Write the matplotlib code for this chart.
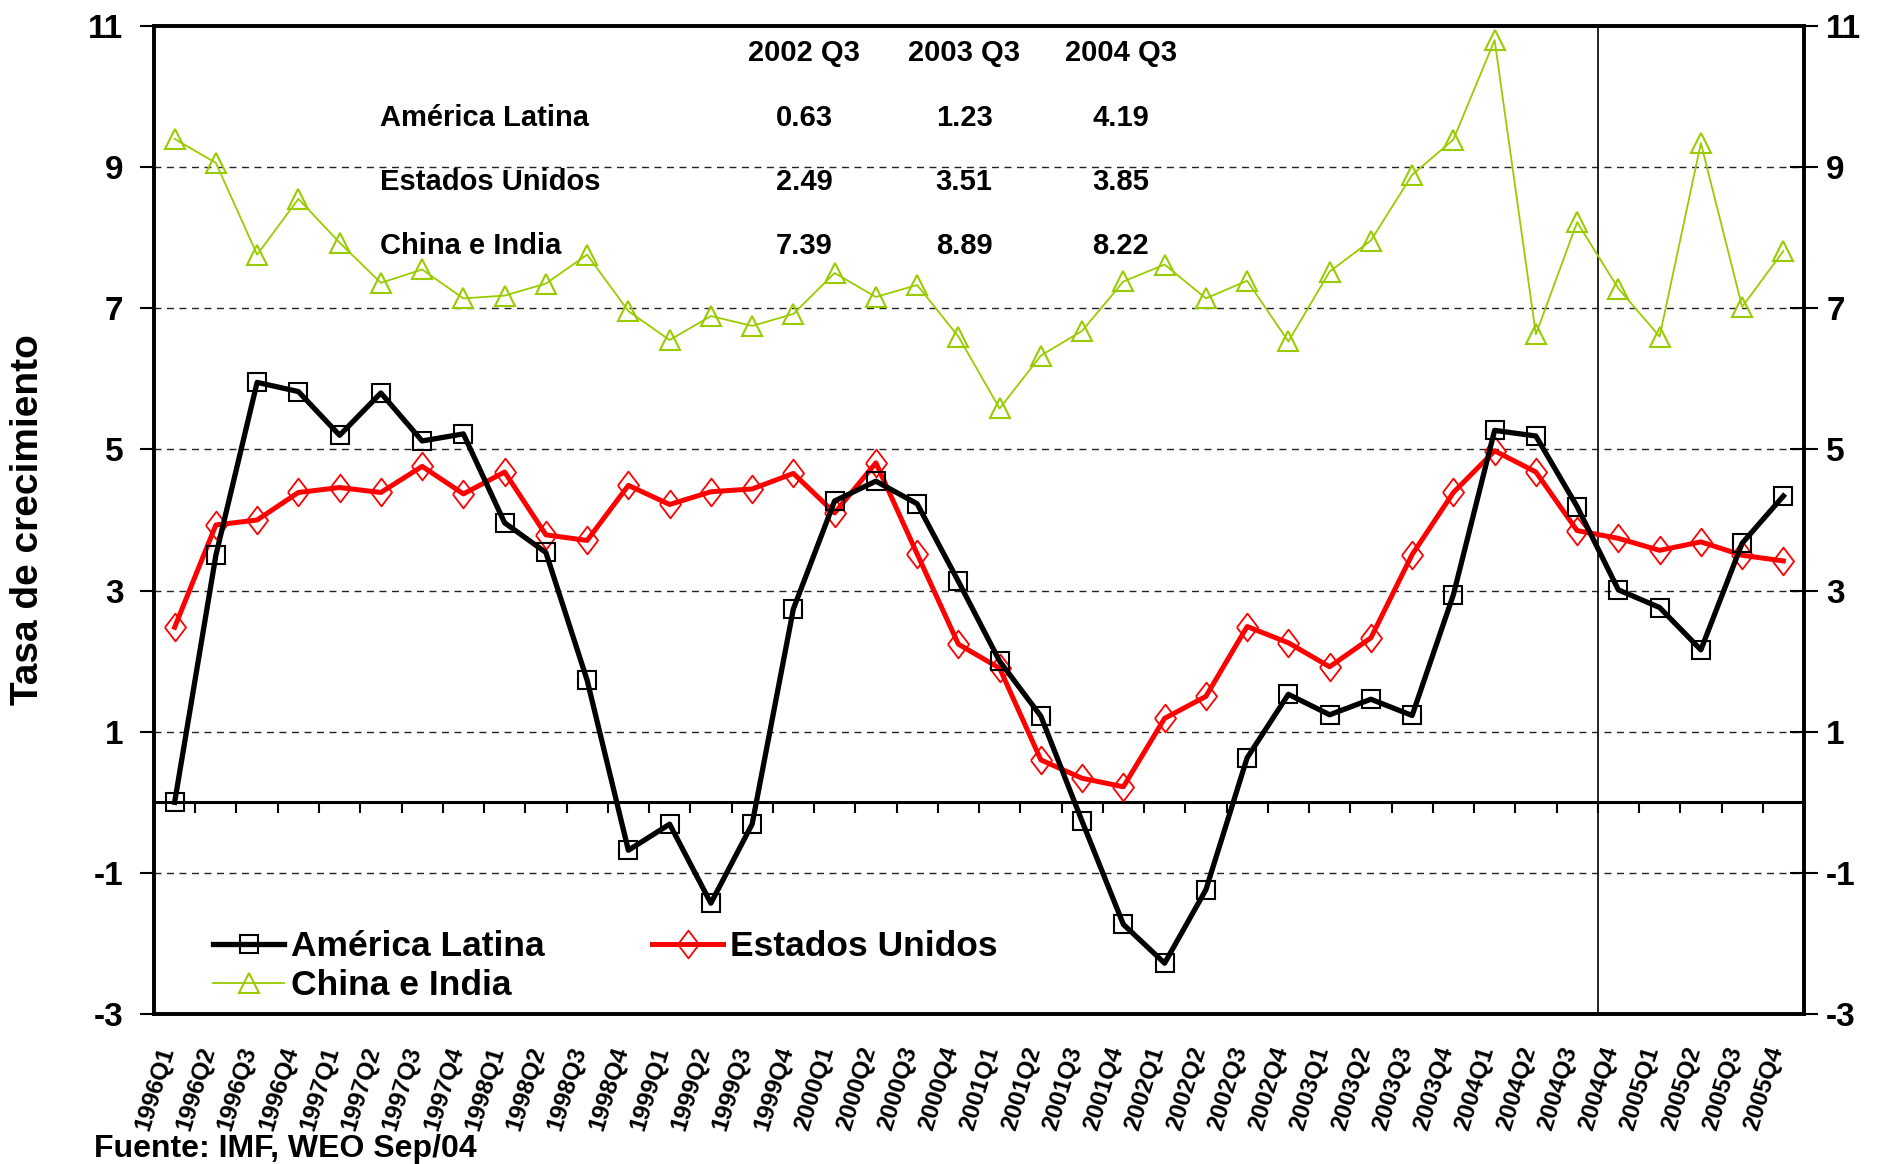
import numpy as np
import matplotlib
matplotlib.use("Agg")
import matplotlib.pyplot as plt
from matplotlib.transforms import ScaledTranslation

plt.rcParams['font.family'] = ['Liberation Sans', 'DejaVu Sans']
plt.rcParams['font.weight'] = 'bold'
plt.rcParams['axes.unicode_minus'] = False

# ---------------- data ----------------
quarters = [f"{y}Q{q}" for y in range(1996, 2006) for q in range(1, 5)]

america_latina = [0.00, 3.50, 5.95, 5.82, 5.20, 5.80, 5.12, 5.22, 3.96, 3.54,
                  1.73, -0.68, -0.31, -1.43, -0.31, 2.74, 4.27, 4.55, 4.23, 3.13,
                  2.00, 1.22, -0.27, -1.73, -2.28, -1.24, 0.63, 1.53, 1.24, 1.46,
                  1.23, 2.94, 5.27, 5.19, 4.19, 3.01, 2.76, 2.16, 3.67, 4.34]

estados_unidos = [2.48, 3.93, 4.00, 4.39, 4.46, 4.39, 4.76, 4.37, 4.68, 3.79,
                  3.71, 4.49, 4.22, 4.40, 4.44, 4.66, 4.10, 4.81, 3.52, 2.24,
                  1.90, 0.60, 0.34, 0.22, 1.19, 1.50, 2.49, 2.26, 1.92, 2.33,
                  3.51, 4.39, 4.98, 4.68, 3.85, 3.74, 3.57, 3.69, 3.50, 3.42]

china_india = [9.40, 9.06, 7.76, 8.55, 7.93, 7.36, 7.55, 7.14, 7.18, 7.35,
               7.76, 6.96, 6.55, 6.89, 6.75, 6.92, 7.50, 7.16, 7.33, 6.60,
               5.58, 6.33, 6.68, 7.38, 7.62, 7.14, 7.39, 6.53, 7.52, 7.96,
               8.89, 9.39, 10.80, 6.63, 8.22, 7.28, 6.60, 9.34, 7.02, 7.81]

table_cols = ["2002 Q3", "2003 Q3", "2004 Q3"]
table_rows = ["América Latina", "Estados Unidos", "China e India"]
table_vals = [[0.63, 1.23, 4.19],
              [2.49, 3.51, 3.85],
              [7.39, 8.89, 8.22]]

forecast_start = "2004Q4"
y_ticks = [-3, -1, 1, 3, 5, 7, 9, 11]

# ---------------- figure ----------------
W, H = 1881, 1164
fig = plt.figure(figsize=(W / 100, H / 100), dpi=100)
L, R, T, B = 154, 1804, 26, 1014
ax = fig.add_axes([L / W, 1 - B / H, (R - L) / W, (B - T) / H])

x = np.arange(len(quarters))
GREEN = '#99CC00'
RED = '#FF0000'

ax.set_xlim(-0.5, len(quarters) - 0.5)
ax.set_ylim(y_ticks[0], y_ticks[-1])

# gridlines
ax.set_yticks(y_ticks)
ax.yaxis.grid(True, linestyle=(0, (5, 4)), color='#222222', linewidth=1.0)
ax.set_axisbelow(True)

# forecast separator
ax.axvline(quarters.index(forecast_start) - 0.5, color='black', lw=1.2, zorder=1)

l_al, = ax.plot(x, america_latina, color='black', lw=3.8, marker='s', ms=13.5,
                mfc='none', mec='black', mew=1.5, zorder=4, label='América Latina')
diamond = [(-0.76, 0), (0, 1), (0.76, 0), (0, -1), (-0.76, 0)]
l_us, = ax.plot(x, estados_unidos, color=RED, lw=3.6, marker=diamond, ms=20,
                mfc='none', mec=RED, mew=1.3, zorder=3, label='Estados Unidos')
l_ci, = ax.plot(x, china_india, color=GREEN, lw=1.3, marker='^', ms=15,
                mfc='none', mec=GREEN, mew=1.5, zorder=3, label='China e India')

# zero axis with category ticks
ymin, ymax = ax.get_ylim()
sec = ax.secondary_xaxis((0 - ymin) / (ymax - ymin))
sec.set_xticks(np.arange(0.5, len(quarters) - 1, 1.0))
sec.tick_params(axis='x', direction='out', length=8, width=1.5, labelbottom=False,
                labeltop=False)
for s in sec.spines.values():
    s.set_linewidth(2.2)

# x tick labels
ax.set_xticks(x)
ax.set_xticklabels(quarters, rotation=73, rotation_mode='anchor', ha='right',
                   va='center', fontsize=17.5, fontweight='bold')
ax.tick_params(axis='x', length=0, pad=24)
shift = ScaledTranslation(-5 / 72, 0, fig.dpi_scale_trans)
for lab in ax.get_xticklabels():
    lab.set_transform(lab.get_transform() + shift)

# y ticks left
ax.tick_params(axis='y', direction='out', length=10, width=1.5, labelsize=24, pad=12)
for lab in ax.get_yticklabels():
    lab.set_fontweight('bold')

# right axis
tw = ax.twinx()
tw.set_ylim(ax.get_ylim())
tw.set_yticks(y_ticks)
tw.tick_params(axis='y', direction='inout', length=20, width=1.5, labelsize=24, pad=6)
for lab in tw.get_yticklabels():
    lab.set_fontweight('bold')

for a in (ax, tw):
    for s in a.spines.values():
        s.set_linewidth(2.6)

# y label
fig.text(28 / W, 1 - 520 / H, 'Tasa de crecimiento', rotation=90, ha='center',
         va='center', fontsize=28, fontweight='bold')

# summary table
col_x = [0.394, 0.491, 0.586]
row_y = [0.907, 0.842, 0.777]
for cx, c in zip(col_x, table_cols):
    ax.text(cx, 0.973, c, transform=ax.transAxes, ha='center', va='center',
            fontsize=21, fontweight='bold')
for ry, rname, vals in zip(row_y, table_rows, table_vals):
    ax.text(0.137, ry, rname, transform=ax.transAxes, ha='left', va='center',
            fontsize=21, fontweight='bold')
    for cx, v in zip(col_x, vals):
        ax.text(cx, ry, f"{v:.2f}", transform=ax.transAxes, ha='center',
                va='center', fontsize=21, fontweight='bold')

# legend
leg = ax.legend(handles=[l_al, l_ci, l_us], loc='upper left',
                bbox_to_anchor=(0.036, 0.085), ncol=2, frameon=False,
                prop={'size': 25.5, 'weight': 'bold'}, handlelength=2.0,
                handletextpad=0.2, columnspacing=3.03, labelspacing=0.18,
                borderpad=0, borderaxespad=0)

# source
fig.text(94 / W, 1 - 1149 / H, 'Fuente: IMF, WEO Sep/04', ha='left', va='center',
         fontsize=23, fontweight='bold')

fig.savefig('out.png', dpi=100)
